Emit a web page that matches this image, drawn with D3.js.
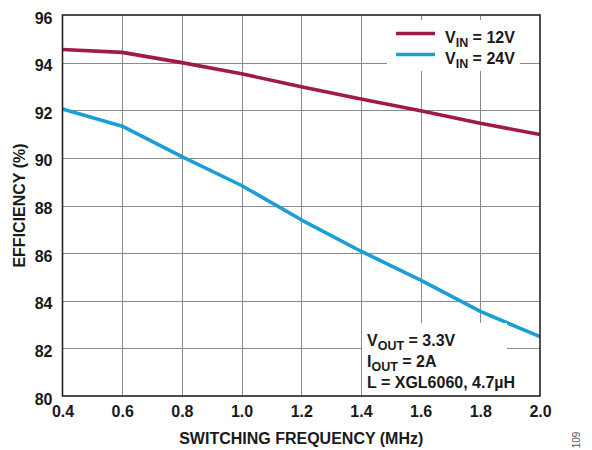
<!DOCTYPE html>
<html>
<head>
<meta charset="utf-8">
<script src="https://cdn.jsdelivr.net/npm/d3@7"></script>
<style>
  html, body { margin: 0; padding: 0; background: #fff; }
  svg { display: block; font-family: "Liberation Sans", Arial, sans-serif; }
</style>
</head>
<body>
<svg id="chart" width="592" height="450"></svg>
<script>
// Switching frequency (MHz)
const freq = [0.4, 0.6, 0.8, 1.0, 1.2, 1.4, 1.6, 1.8, 2.0];
// Efficiency (%) at VIN = 12V and VIN = 24V
const eff12 = [94.55, 94.43, 94.0, 93.53, 92.99, 92.47, 91.98, 91.45, 90.98];
const eff24 = [92.05, 91.33, 90.05, 88.84, 87.40, 86.08, 84.87, 83.55, 82.49];
const xTicks = [0.4, 0.6, 0.8, 1.0, 1.2, 1.4, 1.6, 1.8, 2.0];
const yTicks = [80, 82, 84, 86, 88, 90, 92, 94, 96];
const seriesNames = ["12V", "24V"];
const seriesColors = ["#9e1a47", "#1a9ed5"];

const svg = d3.select("#chart");
const L = 62.5, R = 540, T = 15, B = 396;
const FS = 16;

const x = d3.scaleLinear().domain([0.4, 2.0]).range([L, R]);
const y = d3.scaleLinear().domain([80, 96]).range([B, T]);

// grid
const grid = svg.append("g").attr("stroke", "#8a8a8a").attr("stroke-width", 1);
grid.selectAll("line.v").data(xTicks.slice(1, -1)).join("line")
  .attr("x1", d => Math.round(x(d)) + 0.5).attr("x2", d => Math.round(x(d)) + 0.5)
  .attr("y1", T).attr("y2", B);
grid.selectAll("line.h").data(yTicks.slice(1, -1)).join("line")
  .attr("y1", d => Math.round(y(d)) + 0.5).attr("y2", d => Math.round(y(d)) + 0.5)
  .attr("x1", L).attr("x2", R);

// data lines
const line = d3.line().x((d, i) => x(freq[i])).y(d => y(d));
[eff12, eff24].forEach((s, k) => {
  svg.append("path").datum(s)
    .attr("fill", "none").attr("stroke", seriesColors[k])
    .attr("stroke-width", 3.6).attr("stroke-linejoin", "round")
    .attr("d", line);
});

// legend panel
svg.append("rect").attr("x", 387).attr("y", 20).attr("width", 133).attr("height", 51).attr("fill", "#fff");
const legend = svg.append("g");
seriesNames.forEach((n, k) => {
  const ly = 33.5 + k * 21;
  legend.append("line").attr("x1", 396).attr("x2", 435).attr("y1", ly).attr("y2", ly)
    .attr("stroke", seriesColors[k]).attr("stroke-width", 3.6);
  const t = legend.append("text").attr("x", 445).attr("y", ly + 9.5)
    .attr("font-size", FS).attr("font-weight", "bold").attr("fill", "#1a1a1a");
  t.append("tspan").text("V");
  t.append("tspan").attr("dy", 4).attr("font-size", 12.5).text("IN");
  t.append("tspan").attr("dy", -4).text(" = " + n);
});

// conditions panel
svg.append("rect").attr("x", 362).attr("y", 323).attr("width", 145).attr("height", 73).attr("fill", "#fff");
const cond = [
  { main: "V", sub: "OUT", rest: " = 3.3V" },
  { main: "I", sub: "OUT", rest: " = 2A" },
  { main: "L = XGL6060, 4.7µH", sub: "", rest: "" }
];
cond.forEach((c, i) => {
  const t = svg.append("text").attr("x", 367).attr("y", 346 + i * 21)
    .attr("font-size", FS).attr("font-weight", "bold").attr("fill", "#1a1a1a");
  t.append("tspan").text(c.main);
  if (c.sub) {
    t.append("tspan").attr("dy", 4).attr("font-size", 12.5).text(c.sub);
    t.append("tspan").attr("dy", -4).text(c.rest);
  }
});

// frame
svg.append("rect").attr("x", L).attr("y", T).attr("width", R - L).attr("height", B - T)
  .attr("fill", "none").attr("stroke", "#222").attr("stroke-width", 1.6);

// axes
const xAxis = svg.append("g").attr("transform", `translate(0,${B})`)
  .call(d3.axisBottom(x).tickValues(xTicks).tickFormat(d3.format(".1f")).tickSize(0).tickPadding(10));
const yAxis = svg.append("g").attr("transform", `translate(${L},0)`)
  .call(d3.axisLeft(y).tickValues(yTicks).tickFormat(d3.format("d")).tickSize(0).tickPadding(10));
[xAxis, yAxis].forEach(a => {
  a.select(".domain").remove();
  a.selectAll("text").attr("font-size", FS).attr("font-weight", "bold")
    .attr("fill", "#1a1a1a").attr("font-family", "Liberation Sans, Arial, sans-serif");
});
yAxis.selectAll("text").attr("dy", "0.5em");

// titles
svg.append("text").attr("x", (L + R) / 2).attr("y", 444).attr("text-anchor", "middle")
  .attr("font-size", FS).attr("font-weight", "bold").attr("fill", "#1a1a1a")
  .text("SWITCHING FREQUENCY (MHz)");
svg.append("text").attr("transform", `translate(25,${(T + B) / 2}) rotate(-90)`)
  .attr("text-anchor", "middle")
  .attr("font-size", FS).attr("font-weight", "bold").attr("fill", "#1a1a1a")
  .text("EFFICIENCY (%)");
svg.append("text").attr("transform", "translate(580,440) rotate(-90)")
  .attr("text-anchor", "middle").attr("font-size", 10).attr("fill", "#555")
  .text("109");
</script>
</body>
</html>
